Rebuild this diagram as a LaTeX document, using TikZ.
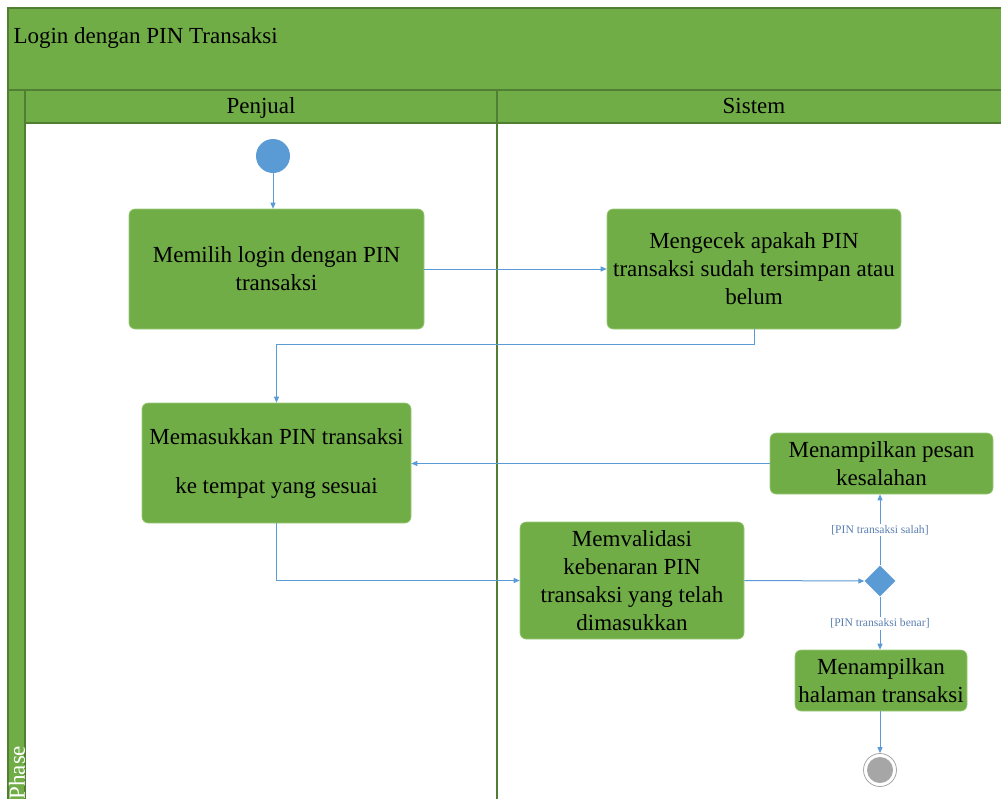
\documentclass[tikz,border=0pt]{standalone}
\usepackage{fontspec}
\setmainfont{Liberation Serif}
\usetikzlibrary{arrows.meta,shapes.geometric}
\definecolor{lanegreen}{HTML}{70AD47}
\definecolor{darkline}{HTML}{507E32}
\definecolor{boxedge}{HTML}{9CCB7A}
\definecolor{flowblue}{HTML}{5B9BD5}
\definecolor{labelblue}{HTML}{5A7FB0}
\definecolor{endgray}{HTML}{A6A6A6}
\tikzset{
  actbox/.style={rectangle, rounded corners=6pt, fill=lanegreen, draw=boxedge, line width=0.6pt,
    align=center, font=\fontsize{23}{28}\selectfont, inner sep=2pt},
  flow/.style={draw=flowblue, line width=1pt, -{Triangle[length=6pt,width=5pt]}},
  guard/.style={font=\fontsize{11.6}{13}\selectfont, text=labelblue, fill=white, inner sep=1.5pt},
  lanetext/.style={font=\fontsize{23}{26}\selectfont, text=black},
  frameline/.style={draw=darkline, line width=1.5pt}
}
\begin{document}
\begin{tikzpicture}[x=1pt,y=-1pt]
\useasboundingbox (0,0) rectangle (1001,798);
% swimlane frame
\fill[white] (0,0) rectangle (1001,798);
\fill[lanegreen] (8,8) rectangle (1012,123);
\fill[lanegreen] (8,8) rectangle (25,810);
\draw[frameline] (8,810) -- (8,8) -- (1012,8);
\draw[frameline] (8,90) -- (1012,90);
\draw[frameline] (25,90) -- (25,810);
\draw[frameline] (25,123) -- (1012,123);
\draw[frameline] (497,90) -- (497,810);
\node[lanetext, anchor=base west] (title) at (10,43) {Login dengan PIN Transaksi};
\node[lanetext, anchor=base] (penjual) at (261,113) {Penjual};
\node[lanetext, anchor=base] (sistem) at (754,113) {Sistem};
\node[lanetext, text=white, rotate=90, anchor=west] (phase) at (17,803) {Phase};
% nodes
\node[circle, fill=flowblue, minimum size=34pt, inner sep=0pt] (start) at (273,156) {};
\node[actbox, minimum width=295pt, minimum height=120pt] (b1) at (276.5,269) {Memilih login dengan PIN\\transaksi};
\node[actbox, minimum width=294pt, minimum height=120pt] (b2) at (754,269) {Mengecek apakah PIN\\transaksi sudah tersimpan atau\\belum};
\node[actbox, minimum width=269pt, minimum height=120pt] (b3) at (276.5,463) {Memasukkan PIN transaksi\\[21pt]ke tempat yang sesuai};
\node[actbox, minimum width=223pt, minimum height=61pt] (b4) at (881.5,463.5) {Menampilkan pesan\\kesalahan};
\node[actbox, minimum width=224pt, minimum height=117pt] (b5) at (632,580.5) {Memvalidasi\\kebenaran PIN\\transaksi yang telah\\dimasukkan};
\node[diamond, fill=flowblue, minimum width=31pt, minimum height=31pt, inner sep=0pt] (dec) at (880,581) {};
\node[actbox, minimum width=172pt, minimum height=61pt] (b6) at (881,680.5) {Menampilkan\\halaman transaksi};
\node[circle, draw=endgray, fill=white, line width=0.8pt, minimum size=33pt, inner sep=0pt] (end) at (880,770) {};
\node[circle, fill=endgray, minimum size=26pt, inner sep=0pt] (endin) at (880,770) {};
% connectors
\draw[flow] (start) -- (start |- b1.north);
\draw[flow] (b1.east) -- (b2.west);
\draw[flow] (b2.south) -- ++(0,15) -| (b3.north);
\draw[flow] (b4.west) -- (b4.west -| b3.east);
\draw[flow] (b3.south) |- (b5.west);
\draw[flow] (b5.east) -- (dec.west);
\draw[flow] (dec.north) -- (dec.north |- b4.south) node[guard, pos=0.5] (gsalah) {[PIN transaksi salah]};
\draw[flow] (dec.south) -- (dec.south |- b6.north) node[guard, pos=0.5] (gbenar) {[PIN transaksi benar]};
\draw[flow] (end |- b6.south) -- (end.north);
\end{tikzpicture}
\end{document}
